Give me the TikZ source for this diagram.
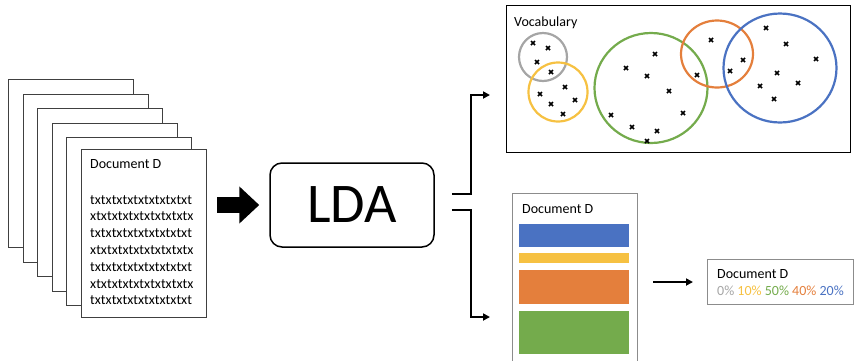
\documentclass[tikz,border=0pt]{standalone}
\usepackage{fontspec}
\setmainfont{Carlito}
\usetikzlibrary{arrows.meta,positioning}

\definecolor{tgray}{HTML}{A5A5A5}
\definecolor{tgold}{HTML}{F6C142}
\definecolor{tgreen}{HTML}{74AB4C}
\definecolor{torange}{HTML}{E47F3C}
\definecolor{tblue}{HTML}{4A72C2}

\begin{document}
\begin{tikzpicture}[x=1pt,y=-1pt,font=\fontsize{14}{16.8}\selectfont]
  \tikzstyle{page}=[draw=black!75,fill=white,line width=0.8pt,minimum width=125pt,minimum height=168pt,anchor=north west,inner sep=0pt]
  \tikzstyle{txtline}=[anchor=base west,inner sep=0pt]
  \tikzstyle{flow}=[line width=1.8pt,-{Triangle[length=7pt,width=7pt]}]
  \tikzstyle{word}=[line width=1.7pt]
  \tikzstyle{topic}=[line width=2.2pt]

  \useasboundingbox (0,0) rectangle (855,360);

  % stack of documents
  \foreach \i in {0,...,4}
    \node[page] (p\i) at (8+14.5*\i,79+14.5*\i) {};
  \node[page] (doc) at (81,149) {};
  \node[txtline] (doctitle) at (90,168) {Document D};
  \foreach \j in {0,2,4,6}
    \node[txtline] at (90,204+16.8*\j) {txtxtxtxtxtxtxtxtxt};
  \foreach \j in {1,3,5}
    \node[txtline] at (90,204+16.8*\j) {xtxtxtxtxtxtxtxtxtx};

  % model
  \node[draw,line width=1.5pt,rounded corners=12pt,minimum width=164pt,minimum height=84pt,inner sep=0pt,
        font=\fontsize{56}{60}\selectfont] (lda) at (352,205) {LDA};
  \draw[line width=16pt,-{Triangle[length=20pt,width=36pt]}] ([xshift=-52pt]lda.west) -- ([xshift=-10pt]lda.west);

  % vocabulary with topics
  \node[draw,line width=1pt,minimum width=344pt,minimum height=147pt,anchor=north west,inner sep=0pt] (vocab) at (506,5) {};
  \node[txtline] (vocabtitle) at (514,26) {Vocabulary};
  \draw[topic,tgray]   (543,57) circle [radius=24];
  \draw[topic,tgold]   (558,92) circle [radius=29.5];
  \draw[topic,tgreen]  (651,88) ellipse [x radius=56.5,y radius=55];
  \draw[topic,torange] (717,54) ellipse [x radius=36,y radius=33.5];
  \draw[topic,tblue]   (780,68) ellipse [x radius=56.5,y radius=54.5];
  \foreach \px/\py in {533/43,548/48,537/62,551/72,
                       565/87,540/94,575/100,551/104,563/114,
                       655/54,626/68,647/76,669/91,611/115,683/113,632/127,657/131,647/141,
                       711/40,743/60,730/71,697/75,
                       766/28,786/44,816/59,777/73,760/86,798/83,774/99}
    \draw[word] (\px-2,\py-2) -- (\px+2,\py+2) (\px-2,\py+2) -- (\px+2,\py-2);

  % topic mixture of one document
  \draw[black!45,line width=1pt] (512,362) -- (512,193) -- (637,193) -- (637,362);
  \coordinate (topicdoc) at (512,193);
  \node[txtline] (mixtitle) at (522,213) {Document D};
  \fill[tblue]   (519,224) rectangle (629,247);
  \fill[tgold]   (519,253) rectangle (629,263);
  \fill[torange] (519,270) rectangle (629,304);
  \fill[tgreen]  (519,311) rectangle (629,354);

  \coordinate (split top) at (490,95);
  \coordinate (split bottom) at (490,317);
  \draw[flow] ([xshift=17pt,yshift=11pt]lda.east) -| ([xshift=-19pt]split top) -- (split top);
  \draw[flow] ([xshift=17pt,yshift=-5pt]lda.east) -| ([xshift=-19pt]split bottom) -- (split bottom);

  % result
  \node[draw=black!45,line width=1pt,minimum width=146pt,minimum height=45pt,anchor=north west,inner sep=0pt] (result) at (707,259) {};
  \node[txtline] (restitle) at (717,278) {Document D};
  \node[txtline] (resmix) at (717,295) {\textcolor{tgray}{0\%} \textcolor{tgold}{10\%} \textcolor{tgreen}{50\%} \textcolor{torange}{40\%} \textcolor{tblue}{20\%}};
  \draw[flow] ([xshift=-54pt]result.west) -- ([xshift=-14pt]result.west);
\end{tikzpicture}
\end{document}
